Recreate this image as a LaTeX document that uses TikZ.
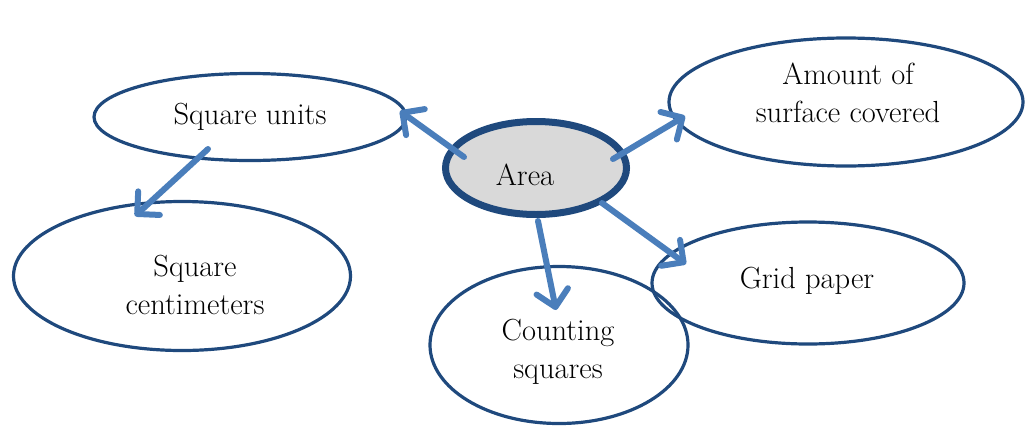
\documentclass[tikz,border=0pt]{standalone}
\usepackage{fontspec}
\usetikzlibrary{shapes.geometric,arrows.meta}
\definecolor{edgeblue}{RGB}{31,73,125}
\definecolor{arrowblue}{RGB}{74,126,187}
\definecolor{areafill}{RGB}{217,217,217}
\begin{document}
\begin{tikzpicture}[x=1pt,y=-1pt,
  bubble/.style={ellipse,draw=edgeblue,line width=3.2pt,inner sep=0pt},
  label/.style={font=\fontsize{30.5}{38}\selectfont,align=center},
  conn/.style={draw=arrowblue,line width=6pt,line cap=round,line join=round,
    -{Straight Barb[length=16pt,width=32pt,line cap=round,line join=round]}}]
\useasboundingbox (0,0) rectangle (1025,429);
\node[bubble,minimum width=312pt,minimum height=87pt] (units) at (250,117) {};
\node[label] at (250,117) {Square units};
\node[bubble,minimum width=337pt,minimum height=149pt] (cm) at (182,276) {};
\node[label] at (195,285) {Square\\centimeters};
\node[bubble,minimum width=354pt,minimum height=128pt] (amount) at (846,102) {};
\node[label] at (848,93) {Amount of\\surface covered};
\node[bubble,minimum width=312pt,minimum height=122pt] (grid) at (808,283) {};
\node[label] at (807,281) {Grid paper};
\node[bubble,minimum width=258pt,minimum height=157pt] (count) at (559,345) {};
\node[label] at (558,352) {Counting\\squares};
\node[ellipse,draw=edgeblue,fill=areafill,line width=7pt,minimum width=181pt,minimum height=93pt,
  inner sep=0pt] (area) at (536,168) {};
\node[label] at (525,175) {Area};
\coordinate (a1) at (464,157);
\coordinate (e1) at (400,111);
\coordinate (a2) at (208,149);
\coordinate (e2) at (135,216);
\coordinate (a3) at (613,159);
\coordinate (e3) at (685,116);
\coordinate (a4) at (602,203);
\coordinate (e4) at (686,264);
\coordinate (a5) at (538,221);
\coordinate (e5) at (556,310);
\draw[conn] (a1) -- (e1);
\draw[conn] (a2) -- (e2);
\draw[conn] (a3) -- (e3);
\draw[conn] (a4) -- (e4);
\draw[conn] (a5) -- (e5);
\end{tikzpicture}
\end{document}
